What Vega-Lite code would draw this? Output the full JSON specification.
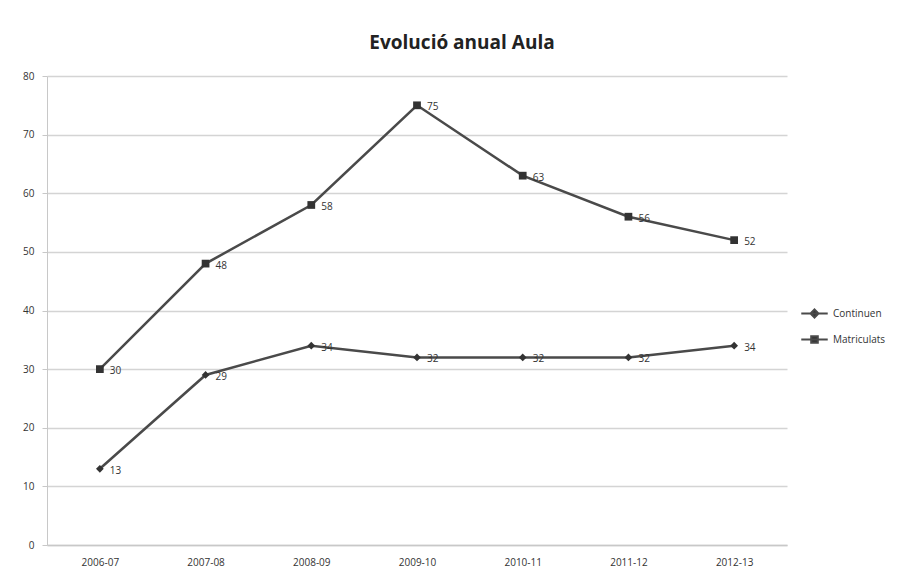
{
  "$schema": "https://vega.github.io/schema/vega-lite/v6.json",
  "autosize": {"type": "none"},
  "width": 740,
  "height": 469,
  "padding": {"left": 47, "top": 76, "right": 136, "bottom": 42},
  "background": "white",
  "title": {
    "text": "Evolució anual Aula",
    "font": "Open Sans",
    "fontSize": 19,
    "fontWeight": "bold",
    "color": "#222222",
    "anchor": "middle",
    "dx": 45,
    "offset": 18
  },
  "data": {
    "values": [
      {"curs": "2006-07", "serie": "Continuen", "valor": 13},
      {"curs": "2007-08", "serie": "Continuen", "valor": 29},
      {"curs": "2008-09", "serie": "Continuen", "valor": 34},
      {"curs": "2009-10", "serie": "Continuen", "valor": 32},
      {"curs": "2010-11", "serie": "Continuen", "valor": 32},
      {"curs": "2011-12", "serie": "Continuen", "valor": 32},
      {"curs": "2012-13", "serie": "Continuen", "valor": 34},
      {"curs": "2006-07", "serie": "Matriculats", "valor": 30},
      {"curs": "2007-08", "serie": "Matriculats", "valor": 48},
      {"curs": "2008-09", "serie": "Matriculats", "valor": 58},
      {"curs": "2009-10", "serie": "Matriculats", "valor": 75},
      {"curs": "2010-11", "serie": "Matriculats", "valor": 63},
      {"curs": "2011-12", "serie": "Matriculats", "valor": 56},
      {"curs": "2012-13", "serie": "Matriculats", "valor": 52}
    ]
  },
  "encoding": {
    "x": {
      "field": "curs",
      "type": "ordinal",
      "scale": {"type": "point", "padding": 0.5},
      "axis": {
        "title": null,
        "labelAngle": 0,
        "labelFont": "Open Sans",
        "labelFontSize": 10,
        "labelColor": "#333333",
        "domainColor": "#c8c8c8",
        "domainWidth": 1.5,
        "ticks": false,
        "labelPadding": 12,
        "grid": false
      }
    },
    "y": {
      "field": "valor",
      "type": "quantitative",
      "scale": {"domain": [0, 80]},
      "axis": {
        "title": null,
        "values": [0, 10, 20, 30, 40, 50, 60, 70, 80],
        "labelFont": "Open Sans",
        "labelFontSize": 10,
        "labelColor": "#333333",
        "labelPadding": 8,
        "domainColor": "#c8c8c8",
        "tickColor": "#c8c8c8",
        "tickSize": 5,
        "gridColor": "#d4d4d4",
        "gridWidth": 1.5
      }
    }
  },
  "layer": [
    {
      "mark": {"type": "line", "strokeWidth": 2.5},
      "encoding": {
        "color": {
          "field": "serie",
          "type": "nominal",
          "scale": {"domain": ["Continuen", "Matriculats"], "range": ["#4a4a4a", "#4a4a4a"]},
          "legend": {
            "title": null,
            "orient": "none",
            "legendX": 753,
            "legendY": 223,
            "padding": 0,
            "labelFont": "Open Sans",
            "labelFontSize": 10,
            "labelColor": "#333333",
            "symbolSize": 700,
            "rowPadding": 3,
            "labelOffset": 4,
            "encode": {
              "symbols": {
                "update": {
                  "shape": {"signal": "datum.value == 'Continuen' ? 'M-1,0H1M0,-0.3L0.3,0L0,0.3L-0.3,0Z' : 'M-1,0H1M-0.25,-0.25H0.25V0.25H-0.25Z'"},
                  "stroke": {"value": "#404040"},
                  "strokeWidth": {"value": 2},
                  "fill": {"value": "#333333"},
                  "opacity": {"value": 1}
                }
              }
            }
          }
        }
      }
    },
    {
      "transform": [{"filter": "datum.serie == 'Continuen'"}],
      "mark": {"type": "point", "shape": "diamond", "filled": true, "opacity": 1, "color": "#333333", "size": 60}
    },
    {
      "transform": [{"filter": "datum.serie == 'Matriculats'"}],
      "mark": {"type": "point", "shape": "square", "filled": true, "opacity": 1, "color": "#333333", "size": 60}
    },
    {
      "mark": {"type": "text", "align": "left", "dx": 10, "dy": 2, "font": "Open Sans", "fontSize": 10, "color": "#333333"},
      "encoding": {"text": {"field": "valor", "type": "quantitative"}}
    }
  ],
  "config": {"view": {"stroke": null}}
}
